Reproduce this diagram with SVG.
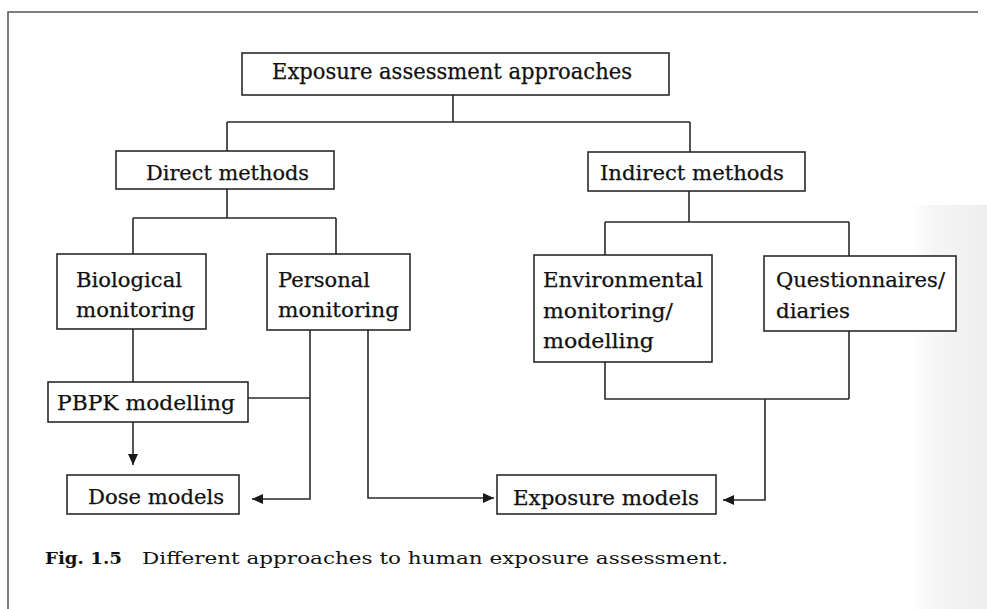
<svg xmlns="http://www.w3.org/2000/svg" width="987" height="609" viewBox="0 0 987 609">
<style>
.box{fill:#fff;stroke:#2a2a2a;stroke-width:1.6}
.t{font-family:"DejaVu Serif","Liberation Serif",serif;font-size:20px;fill:#111;stroke:#111;stroke-width:0.25}
.tt{font-family:"DejaVu Serif","Liberation Serif",serif;font-size:22px;fill:#111;stroke:#111;stroke-width:0.25}
.cap{font-family:"DejaVu Serif","Liberation Serif",serif;font-size:17.5px;fill:#111}
.ln{fill:none;stroke:#2a2a2a;stroke-width:1.6}
.frame{fill:none;stroke:#555;stroke-width:1.5}
</style>
<defs>
<marker id="ah" markerUnits="userSpaceOnUse" markerWidth="12" markerHeight="10" refX="11" refY="5" orient="auto">
<path d="M0,0 L11,5 L0,10 Z" fill="#1a1a1a"/>
</marker>
<linearGradient id="shade" x1="0" y1="0" x2="1" y2="0">
<stop offset="0" stop-color="#f8f8f8" stop-opacity="0"/>
<stop offset="0.3" stop-color="#f6f6f6"/>
<stop offset="1" stop-color="#eeeeee"/>
</linearGradient>
</defs>
<rect x="0" y="0" width="987" height="609" fill="#fff"/>
<rect x="910" y="205" width="77" height="404" fill="url(#shade)"/>
<path class="frame" d="M8,609 V12 H978"/>
<g id="connectors">
<path class="ln" d="M453,95 V122 M227,122 H690 M227,122 V151 M690,122 V152"/>
<path class="ln" d="M227,189 V218 M133,218 H336 M133,218 V254 M336,218 V254"/>
<path class="ln" d="M689,191 V222 M605,222 H849 M605,222 V255 M849,222 V256"/>
<path class="ln" d="M133,329 V382"/>
<path class="ln" d="M133,422 V465" marker-end="url(#ah)"/>
<path class="ln" d="M248,398 H310"/>
<path class="ln" d="M310,330 V499 H252" marker-end="url(#ah)"/>
<path class="ln" d="M368,330 V498 H494" marker-end="url(#ah)"/>
<path class="ln" d="M605,362 V399 H849 M849,331 V399"/>
<path class="ln" d="M765,399 V500 H723" marker-end="url(#ah)"/>
</g>
<g id="n-top">
<rect class="box" x="242" y="53" width="427" height="42"/>
<text class="tt" x="272" y="79" textLength="360" lengthAdjust="spacingAndGlyphs">Exposure assessment approaches</text>
</g>
<g id="n-direct">
<rect class="box" x="116" y="151" width="218" height="38"/>
<text class="t" x="146" y="180" textLength="163" lengthAdjust="spacingAndGlyphs">Direct methods</text>
</g>
<g id="n-indirect">
<rect class="box" x="588" y="152" width="217" height="39"/>
<text class="t" x="600" y="180" textLength="184" lengthAdjust="spacingAndGlyphs">Indirect methods</text>
</g>
<g id="n-bio">
<rect class="box" x="57" y="254" width="149" height="75"/>
<text class="t" x="76" y="287" textLength="106" lengthAdjust="spacingAndGlyphs">Biological</text>
<text class="t" x="76" y="317" textLength="119" lengthAdjust="spacingAndGlyphs">monitoring</text>
</g>
<g id="n-personal">
<rect class="box" x="267" y="254" width="143" height="76"/>
<text class="t" x="278" y="287" textLength="92" lengthAdjust="spacingAndGlyphs">Personal</text>
<text class="t" x="278" y="317" textLength="121" lengthAdjust="spacingAndGlyphs">monitoring</text>
</g>
<g id="n-env">
<rect class="box" x="534" y="255" width="178" height="107"/>
<text class="t" x="543" y="287" textLength="160" lengthAdjust="spacingAndGlyphs">Environmental</text>
<text class="t" x="543" y="318" textLength="130" lengthAdjust="spacingAndGlyphs">monitoring/</text>
<text class="t" x="543" y="348" textLength="111" lengthAdjust="spacingAndGlyphs">modelling</text>
</g>
<g id="n-quest">
<rect class="box" x="764" y="256" width="192" height="75"/>
<text class="t" x="776" y="287" textLength="169" lengthAdjust="spacingAndGlyphs">Questionnaires/</text>
<text class="t" x="776" y="318" textLength="74" lengthAdjust="spacingAndGlyphs">diaries</text>
</g>
<g id="n-pbpk">
<rect class="box" x="48" y="382" width="200" height="40"/>
<text class="t" x="57" y="410" textLength="178" lengthAdjust="spacingAndGlyphs">PBPK modelling</text>
</g>
<g id="n-dose">
<rect class="box" x="67" y="475" width="172" height="39"/>
<text class="t" x="88" y="504" textLength="136" lengthAdjust="spacingAndGlyphs">Dose models</text>
</g>
<g id="n-exposure">
<rect class="box" x="497" y="475" width="219" height="39"/>
<text class="t" x="513" y="505" textLength="186" lengthAdjust="spacingAndGlyphs">Exposure models</text>
</g>
<g id="caption">
<text class="cap" x="45" y="564" font-weight="bold" textLength="77" lengthAdjust="spacingAndGlyphs">Fig. 1.5</text>
<text class="cap" x="142" y="564" textLength="586" lengthAdjust="spacingAndGlyphs">Different approaches to human exposure assessment.</text>
</g>
</svg>
